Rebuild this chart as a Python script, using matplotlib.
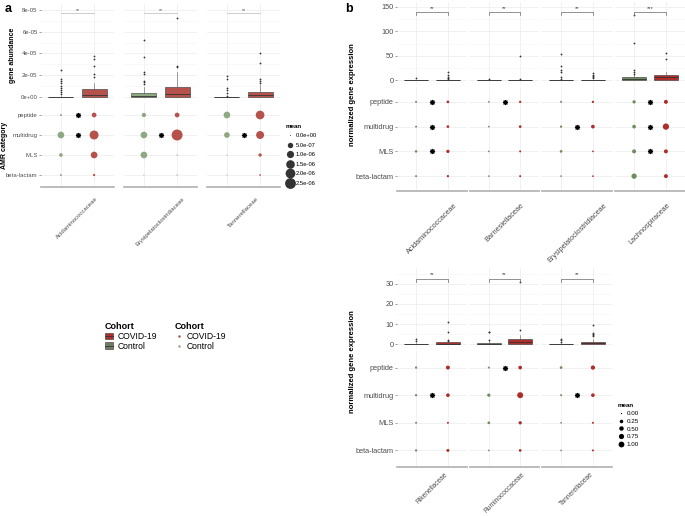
import numpy as np
import matplotlib
matplotlib.use("Agg")
import matplotlib.pyplot as plt
from matplotlib.lines import Line2D
from matplotlib.patches import Patch
from matplotlib.ticker import FixedLocator

plt.rcParams['font.family'] = ['Liberation Sans', 'DejaVu Sans']

# ---------------- data ----------------
amr_categories = ['beta-lactam', 'MLS', 'multidrug', 'peptide']   # bottom -> top
cohorts = ['Control', 'COVID-19']

# panel a
a_families = ['Acidaminococcaceae', 'Erysipelatoclostridiaceae', 'Tannerellaceae']
a_ctrl_q1 = [0.0, 0.0, 0.0]
a_ctrl_med = [0.0, 0.05e-05, 0.0]
a_ctrl_q3 = [0.03e-05, 0.40e-05, 0.04e-05]
a_ctrl_whishi = [0.07e-05, 0.95e-05, 0.08e-05]
a_ctrl_fliers = [[2.48e-05, 1.65e-05, 1.47e-05, 1.26e-05, 1.04e-05, 0.86e-05, 0.64e-05, 0.43e-05, 0.25e-05],
                 [5.2e-05, 3.7e-05, 2.3e-05, 2.1e-05, 1.5e-05, 1.35e-05, 1.2e-05],
                 [1.96e-05, 1.65e-05, 0.8e-05, 0.64e-05, 0.34e-05, 0.12e-05]]
a_covid_q1 = [0.0, 0.0, 0.0]
a_covid_med = [0.15e-05, 0.25e-05, 0.18e-05]
a_covid_q3 = [0.70e-05, 0.95e-05, 0.43e-05]
a_covid_whishi = [1.26e-05, 2.3e-05, 1.1e-05]
a_covid_fliers = [[3.8e-05, 3.5e-05, 2.88e-05, 2.1e-05, 1.8e-05],
                  [7.3e-05, 2.85e-05, 2.76e-05],
                  [4.0e-05, 3.1e-05, 1.7e-05, 1.47e-05, 1.26e-05]]
a_sig_labels = ['**', '**', '**']
a_bracket_y = [7.7e-05, 7.7e-05, 7.7e-05]
# mean abundance per AMR category (beta-lactam, MLS, multidrug, peptide)
a_mean_ctrl = [[2.6e-08, 1.9e-07, 8.4e-07, 2.6e-08],
               [0.0, 8.4e-07, 8.4e-07, 2.8e-07],
               [0.0, 0.0, 5.7e-07, 8.4e-07]]
a_mean_covid = [[4.4e-08, 8.4e-07, 1.66e-06, 3.6e-07],
                [0.0, 0.0, 2.6e-06, 3.6e-07],
                [1.3e-08, 1.4e-07, 1.27e-06, 1.54e-06]]
a_sig_cats = [['peptide', 'multidrug'], ['multidrug'], ['multidrug']]
a_yticks = [0, 2e-05, 4e-05, 6e-05, 8e-05]
a_yticklabels = ['0e+00', '2e-05', '4e-05', '6e-05', '8e-05']
a_size_breaks = [0.0, 5e-07, 1e-06, 1.5e-06, 2e-06, 2.5e-06]
a_size_labels = ['0.0e+00', '5.0e-07', '1.0e-06', '1.5e-06', '2.0e-06', '2.5e-06']

# panel b, top row
b1_families = ['Acidaminococcaceae', 'Barnesiellaceae', 'Erysipelatoclostridiaceae', 'Lachnospiraceae']
b1_ctrl_q1 = [0.0, 0.0, 0.0, 0.3]
b1_ctrl_med = [0.0, 0.0, 0.0, 2.5]
b1_ctrl_q3 = [0.3, 0.1, 0.3, 6.0]
b1_ctrl_whishi = [0.6, 0.2, 0.7, 12.0]
b1_ctrl_fliers = [[5.4], [2.0], [54, 30, 21, 17.7, 7.5, 3.5], [133, 76, 21, 18, 13]]
b1_covid_q1 = [0.0, 0.0, 0.0, 0.6]
b1_covid_med = [0.1, 0.0, 0.0, 6.0]
b1_covid_q3 = [0.5, 0.2, 0.4, 10.3]
b1_covid_whishi = [1.2, 0.4, 1.0, 18.0]
b1_covid_fliers = [[16.5, 11, 7.5, 5, 3], [50.7, 3.3], [14.4, 11, 9, 6.7, 4], [55.6, 44]]
b1_sig_labels = ['**', '**', '**', '***']
b1_bracket_y = [139, 139, 139, 139]
b1_mean_ctrl = [[0.024, 0.071, 0.024, 0.024],
                [0.008, 0.008, 0.008, 0.008],
                [0.008, 0.097, 0.049, 0.024],
                [0.79, 0.36, 0.284, 0.198]]
b1_mean_covid = [[0.049, 0.198, 0.097, 0.097],
                 [0.024, 0.024, 0.097, 0.049],
                 [0.008, 0.008, 0.284, 0.049],
                 [0.36, 0.36, 1.23, 0.36]]
b1_sig_cats = [['peptide', 'multidrug', 'MLS'], ['peptide'], ['multidrug'], ['peptide', 'multidrug', 'MLS']]
b1_yticks = [0, 50, 100, 150]

# panel b, bottom row
b2_families = ['Rikenellaceae', 'Ruminococcaceae', 'Tannerellaceae']
b2_ctrl_q1 = [0.0, 0.0, 0.0]
b2_ctrl_med = [0.0, 0.1, 0.0]
b2_ctrl_q3 = [0.3, 0.7, 0.2]
b2_ctrl_whishi = [0.7, 1.5, 0.5]
b2_ctrl_fliers = [[2.6, 1.6], [6.2, 6.0, 2.0], [2.8, 2.1, 1.3]]
b2_covid_q1 = [0.0, 0.0, 0.0]
b2_covid_med = [0.2, 1.2, 0.4]
b2_covid_q3 = [1.0, 2.5, 1.1]
b2_covid_whishi = [1.2, 4.6, 2.5]
b2_covid_fliers = [[11, 5.9, 2.1, 1.5], [31, 7.1], [9.6, 5.5, 5.0, 4.4, 3.9]]
b2_sig_labels = ['**', '**', '**']
b2_bracket_y = [32.3, 32.3, 32.3]
b2_mean_ctrl = [[0.049, 0.024, 0.049, 0.049],
                [0.008, 0.097, 0.198, 0.024],
                [0.008, 0.008, 0.024, 0.097]]
b2_mean_covid = [[0.143, 0.024, 0.284, 0.36],
                 [0.097, 0.198, 1.09, 0.284],
                 [0.024, 0.024, 0.284, 0.44]]
b2_sig_cats = [['multidrug'], ['peptide'], ['multidrug']]
b2_yticks = [0, 10, 20, 30]
b_size_breaks = [0.0, 0.25, 0.5, 0.75, 1.0]
b_size_labels = ['0.00', '0.25', '0.50', '0.75', '1.00']

# ---------------- style ----------------
W, H = 685, 516
A_COVID, A_CTRL = '#B5524C', '#8EA884'
B_COVID, B_CTRL = '#AE2E2B', '#6F8D5F'
GRID = '#EBEBEB'
TXT = '#4D4D4D'

fig = plt.figure(figsize=(W / 100, H / 100), dpi=100)


def px_axes(x0, y0, x1, y1):
    return fig.add_axes([x0 / W, 1 - y1 / H, (x1 - x0) / W, (y1 - y0) / H])


def size_a(v):
    d = 1.0 + 10.0 * np.sqrt(np.asarray(v) / 2.6e-06)
    return d * 0.72


def size_b(v):
    d = 1.3 + 4.5 * np.sqrt(np.asarray(v))
    return d * 0.72


def base_style(ax):
    for s in ax.spines.values():
        s.set_visible(False)
    ax.set_axisbelow(True)
    ax.set_xlim(0.4, 2.6)


def box_facet(ax, i, q1c, medc, q3c, whc, flc, q1v, medv, q3v, whv, flv,
              colors, ylim, yticks, yticklabels, minor, sig, by, tip, first,
              fs, sigfs, brcol):
    base_style(ax)
    stats = [dict(q1=q1c[i], med=medc[i], q3=q3c[i], whislo=0.0, whishi=whc[i], fliers=flc[i]),
             dict(q1=q1v[i], med=medv[i], q3=q3v[i], whislo=0.0, whishi=whv[i], fliers=flv[i])]
    bp = ax.bxp(stats, positions=[1, 2], widths=0.75, patch_artist=True, showcaps=False,
                boxprops=dict(edgecolor='#333333', linewidth=0.4),
                medianprops=dict(color='#333333', linewidth=0.6),
                whiskerprops=dict(color='#555555', linewidth=0.4),
                flierprops=dict(marker='o', markersize=1.3, markerfacecolor='#333333',
                                markeredgecolor='none'))
    for patch, c in zip(bp['boxes'], colors):
        patch.set_facecolor(c)
    ax.set_ylim(*ylim)
    ax.set_yticks(yticks)
    ax.yaxis.set_minor_locator(FixedLocator(minor))
    ax.set_xticks([1, 2])
    ax.set_xticklabels([])
    ax.tick_params(axis='x', length=0)
    ax.tick_params(axis='y', which='minor', length=0)
    ax.grid(True, which='major', color=GRID, lw=0.5)
    ax.grid(True, which='minor', axis='y', color='#F5F5F5', lw=0.4)
    if first:
        ax.set_yticklabels(yticklabels, fontsize=fs, color=TXT)
        ax.tick_params(axis='y', which='major', length=1.5, width=0.4, color='#555555', pad=1)
    else:
        ax.set_yticklabels([])
        ax.tick_params(axis='y', which='major', length=0)
    ax.plot([1, 1, 2, 2], [by[i] - tip, by[i], by[i], by[i] - tip], color=brcol, lw=0.5)
    ax.text(1.5, by[i] + tip * 0.6, sig[i], ha='center', va='bottom', fontsize=sigfs, color='#444444')


def dot_facet(ax, i, fam, mc, mv, sigcats, colors, sizef, first, fs, xfs, xpad):
    base_style(ax)
    ax.spines['bottom'].set_visible(True)
    ax.spines['bottom'].set_color('#B0B0B0')
    ax.spines['bottom'].set_linewidth(1.2)
    ypos = np.arange(1, len(amr_categories) + 1)
    ax.scatter(np.full(len(ypos), 1.0), ypos, s=sizef(mc[i]) ** 2, color=colors[0], linewidths=0, zorder=3)
    ax.scatter(np.full(len(ypos), 2.0), ypos, s=sizef(mv[i]) ** 2, color=colors[1], linewidths=0, zorder=3)
    sy = [amr_categories.index(c) + 1 for c in sigcats[i]]
    ax.scatter(np.full(len(sy), 1.5), sy, marker=(8, 2, 0), s=9, color='black', linewidths=0.8, zorder=4)
    ax.set_ylim(0.4, 4.6)
    ax.set_yticks(ypos)
    ax.set_xticks([1, 2], minor=True)
    ax.set_xticks([1.5])
    ax.set_xticklabels([fam[i]], rotation=45, ha='center', va='top', fontsize=xfs, color=TXT)
    ax.tick_params(axis='x', which='both', length=0, pad=xpad)
    ax.grid(True, which='major', axis='y', color=GRID, lw=0.5)
    ax.grid(True, which='minor', axis='x', color=GRID, lw=0.5)
    if first:
        ax.set_yticklabels(amr_categories, fontsize=fs, color=TXT)
        ax.tick_params(axis='y', length=1.5, width=0.4, color='#555555', pad=1)
    else:
        ax.set_yticklabels([])
        ax.tick_params(axis='y', length=0)


# ---------------- panel a ----------------
a_x = [(41, 114), (124, 197), (207, 280)]
for i, (x0, x1) in enumerate(a_x):
    axb = px_axes(x0, 4, x1, 100)
    box_facet(axb, i, a_ctrl_q1, a_ctrl_med, a_ctrl_q3, a_ctrl_whishi, a_ctrl_fliers,
              a_covid_q1, a_covid_med, a_covid_q3, a_covid_whishi, a_covid_fliers,
              [A_CTRL, A_COVID], (-2.76e-06, 8.55e-05), a_yticks, a_yticklabels,
              [1e-05, 3e-05, 5e-05, 7e-05], a_sig_labels, a_bracket_y, 0.0, i == 0,
              4.3, 3.8, '#BBBBBB')
    axd = px_axes(x0, 103, x1, 187)
    dot_facet(axd, i, a_families, a_mean_ctrl, a_mean_covid, a_sig_cats,
              [A_CTRL, A_COVID], size_a, i == 0, 4.3, 4.3, 6.5)

fig.text(13 / W, 1 - 55 / H, 'gene abundance', rotation=90, ha='center', va='center',
         fontsize=5, fontweight='bold')
fig.text(5 / W, 1 - 145 / H, 'AMR category', rotation=90, ha='center', va='center',
         fontsize=5, fontweight='bold')
fig.text(5 / W, 1 - 9 / H, 'a', fontsize=9, fontweight='bold', ha='left', va='center')

# ---------------- panel b ----------------
b1_x = [(397, 467), (470, 539), (542, 612), (615, 685)]
for i, (x0, x1) in enumerate(b1_x):
    axb = px_axes(x0, 2, x1, 85)
    box_facet(axb, i, b1_ctrl_q1, b1_ctrl_med, b1_ctrl_q3, b1_ctrl_whishi, b1_ctrl_fliers,
              b1_covid_q1, b1_covid_med, b1_covid_q3, b1_covid_whishi, b1_covid_fliers,
              [B_CTRL, B_COVID], (-9.6, 160.2), b1_yticks, [str(t) for t in b1_yticks],
              [25, 75, 125], b1_sig_labels, b1_bracket_y, 6, i == 0,
              5.3, 4.2, '#666666')
    axd = px_axes(x0, 87, x1, 191)
    dot_facet(axd, i, b1_families, b1_mean_ctrl, b1_mean_covid, b1_sig_cats,
              [B_CTRL, B_COVID], size_b, i == 0, 5.3, 5.3, 8)

b2_x = [(397, 467), (470, 539), (542, 612)]
for i, (x0, x1) in enumerate(b2_x):
    axb = px_axes(x0, 268, x1, 349)
    box_facet(axb, i, b2_ctrl_q1, b2_ctrl_med, b2_ctrl_q3, b2_ctrl_whishi, b2_ctrl_fliers,
              b2_covid_q1, b2_covid_med, b2_covid_q3, b2_covid_whishi, b2_covid_fliers,
              [B_CTRL, B_COVID], (-2.33, 37.8), b2_yticks, [str(t) for t in b2_yticks],
              [5, 15, 25, 35], b2_sig_labels, b2_bracket_y, 1.3, i == 0,
              5.3, 4.2, '#666666')
    axd = px_axes(x0, 351, x1, 467)
    dot_facet(axd, i, b2_families, b2_mean_ctrl, b2_mean_covid, b2_sig_cats,
              [B_CTRL, B_COVID], size_b, i == 0, 5.3, 4.8, 3)

fig.text(352 / W, 1 - 95 / H, 'normalized gene expression', rotation=90, ha='center',
         va='center', fontsize=5.5, fontweight='bold')
fig.text(352 / W, 1 - 362 / H, 'normalized gene expression', rotation=90, ha='center',
         va='center', fontsize=5.5, fontweight='bold')
fig.text(345 / W, 1 - 9 / H, 'b', fontsize=9, fontweight='bold', ha='left', va='center')

# ---------------- legends ----------------
box_handles = [(Patch(facecolor=c, edgecolor='#333333', lw=0.4),
                Line2D([], [], color='#333333', lw=0.6)) for c in [B_COVID, '#6E7F66']]
fig.legend(box_handles, ['COVID-19', 'Control'], loc='upper left',
           bbox_to_anchor=(105 / W, 1 - 322 / H), frameon=False, title='Cohort',
           fontsize=6.2, title_fontproperties={'weight': 'bold', 'size': 6.5},
           alignment='left', handlelength=0.9, handleheight=0.8, handletextpad=0.6,
           labelspacing=0.1, borderpad=0, borderaxespad=0)
dot_handles = [Line2D([], [], marker='o', ls='none', color=c, markersize=1.8, mew=0)
               for c in [A_COVID, A_CTRL]]
fig.legend(dot_handles, ['COVID-19', 'Control'], loc='upper left',
           bbox_to_anchor=(175 / W, 1 - 322 / H), frameon=False, title='Cohort',
           fontsize=6.2, title_fontproperties={'weight': 'bold', 'size': 6.5},
           alignment='left', handlelength=0.9, handletextpad=0.5,
           labelspacing=0.1, borderpad=0, borderaxespad=0)

a_size_handles = [Line2D([], [], marker='o', ls='none', color='#333333',
                         markersize=float(size_a(v)), mew=0) for v in a_size_breaks]
fig.legend(a_size_handles, a_size_labels, loc='upper left',
           bbox_to_anchor=(286 / W, 1 - 124 / H), frameon=False, title='mean',
           fontsize=4.2, title_fontproperties={'weight': 'bold', 'size': 4.5},
           alignment='left', handlelength=1.2, handletextpad=0.4,
           labelspacing=0.75, borderpad=0, borderaxespad=0)

b_size_handles = [Line2D([], [], marker='o', ls='none', color='black',
                         markersize=float(size_b(v)), mew=0) for v in b_size_breaks]
fig.legend(b_size_handles, b_size_labels, loc='upper left',
           bbox_to_anchor=(618 / W, 1 - 403 / H), frameon=False, title='mean',
           fontsize=4.5, title_fontproperties={'weight': 'bold', 'size': 4.5},
           alignment='left', handlelength=1.0, handletextpad=0.4,
           labelspacing=0.4, borderpad=0, borderaxespad=0)

fig.savefig('out.png', dpi=100)
